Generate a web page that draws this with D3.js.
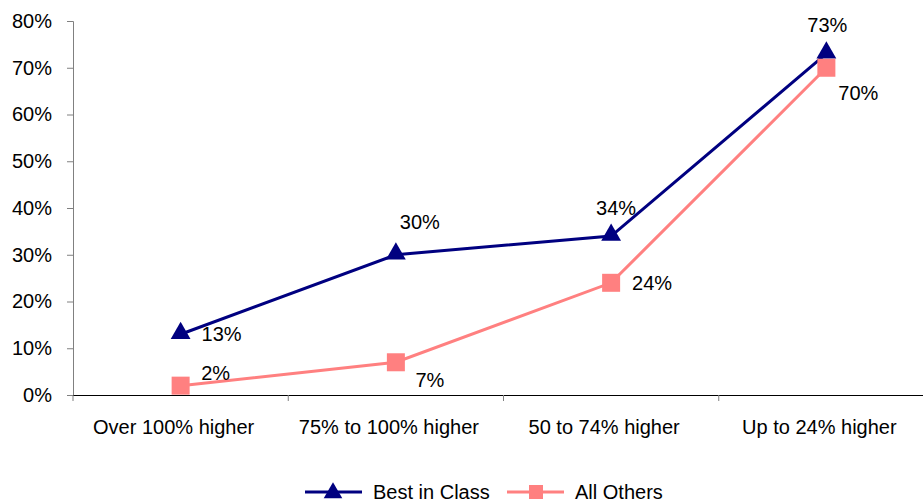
<!DOCTYPE html>
<html>
<head>
<meta charset="utf-8">
<script src="https://cdn.jsdelivr.net/npm/d3@7"></script>
<style>
  html, body { margin: 0; padding: 0; background: #fff; }
  svg { display: block; font-family: "Liberation Sans", Arial, sans-serif; }
</style>
</head>
<body>
<svg id="chart" width="923" height="502"></svg>
<script>
// Data
const categories = ["Over 100% higher", "75% to 100% higher", "50 to 74% higher", "Up to 24% higher"];
const bestInClass = [13, 30, 34, 73];
const allOthers = [2, 7, 24, 70];
const yTicks = [0, 10, 20, 30, 40, 50, 60, 70, 80];
const seriesNames = ["Best in Class", "All Others"];

const svg = d3.select("#chart");
const navy = "#000080", pink = "#FF8080";
const fs = 20;

const x = d3.scaleBand().domain(categories).range([73, 934]);
const y = d3.scaleLinear().domain([0, 80]).range([395, 21]);

// Y axis
const yAxis = svg.append("g").attr("transform", "translate(73,0)")
  .call(d3.axisLeft(y).tickValues(yTicks).tickFormat(d => d + "%").tickSize(6).tickPadding(15));
yAxis.select(".domain").attr("stroke", "#808080").attr("d", "M-6,21.5H0.5V395");
yAxis.selectAll(".tick line").attr("stroke", "#808080");
yAxis.selectAll("text").attr("font-size", fs).attr("fill", "#000");

// X axis
const xAxis = svg.append("g").attr("transform", "translate(0,395)")
  .call(d3.axisBottom(x).tickSize(0).tickPadding(25));
xAxis.select(".domain").attr("stroke", "#000").attr("d", "M73,0.5H934");
xAxis.selectAll("text").attr("font-size", fs).attr("fill", "#000").attr("dx", -7);
// Category boundary ticks
xAxis.selectAll(".bound").data(categories).enter().append("line")
  .attr("x1", d => x(d)).attr("x2", d => x(d))
  .attr("y1", 0).attr("y2", 6).attr("stroke", "#808080");

const cx = i => x(categories[i]) + x.bandwidth() / 2;
const line = d3.line().x((d, i) => cx(i)).y(d => y(d));

// All Others series
svg.append("path").datum(allOthers).attr("d", line)
  .attr("fill", "none").attr("stroke", pink).attr("stroke-width", 3);
// Best in Class series
svg.append("path").datum(bestInClass).attr("d", line)
  .attr("fill", "none").attr("stroke", navy).attr("stroke-width", 3);

const tri = d3.symbol().type(d3.symbolTriangle).size(170);
svg.selectAll(".tri").data(bestInClass).enter().append("path")
  .attr("d", tri)
  .attr("transform", (d, i) => `translate(${cx(i)},${y(d) - 1})`)
  .attr("fill", navy);

svg.selectAll(".sq").data(allOthers).enter().append("rect")
  .attr("x", (d, i) => cx(i) - 9)
  .attr("y", d => y(d) - 9)
  .attr("width", 18).attr("height", 18).attr("fill", pink);

// Value labels
const bestOffsets = [[41, 0], [24, -33], [5, -28], [1, -29]];
const otherOffsets = [[35, -13], [34, 18], [41, 0], [32, 25]];
function drawLabels(cls, data, offsets) {
  svg.selectAll("." + cls).data(data).enter().append("text")
    .attr("x", (d, i) => cx(i) + offsets[i][0])
    .attr("y", (d, i) => y(d) + offsets[i][1])
    .attr("text-anchor", "middle").attr("dominant-baseline", "central")
    .attr("font-size", fs).text(d => d + "%");
}
drawLabels("lb", bestInClass, bestOffsets);
drawLabels("lo", allOthers, otherOffsets);

// Legend
const legend = svg.append("g").attr("transform", "translate(0,492)");
const legendItems = [
  { name: seriesNames[0], color: navy, x0: 305, shape: "tri" },
  { name: seriesNames[1], color: pink, x0: 507, shape: "sq" }
];
legendItems.forEach(it => {
  legend.append("line").attr("x1", it.x0).attr("x2", it.x0 + 57)
    .attr("y1", 0).attr("y2", 0).attr("stroke", it.color).attr("stroke-width", 3);
  if (it.shape === "tri") {
    legend.append("path").attr("d", d3.symbol().type(d3.symbolTriangle).size(150))
      .attr("transform", `translate(${it.x0 + 28},1)`).attr("fill", it.color);
  } else {
    legend.append("rect").attr("x", it.x0 + 22).attr("y", -7).attr("width", 14).attr("height", 14).attr("fill", it.color);
  }
  legend.append("text").attr("x", it.x0 + 68).attr("y", 0).attr("dominant-baseline", "central")
    .attr("font-size", fs).text(it.name);
});
</script>
</body>
</html>
